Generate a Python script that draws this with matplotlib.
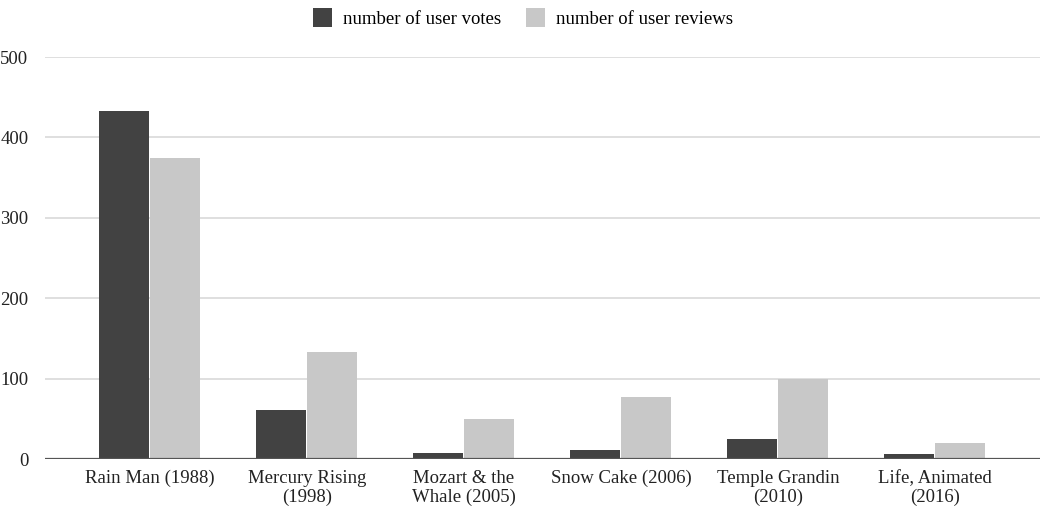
import matplotlib
matplotlib.use("Agg")
import matplotlib.pyplot as plt
import numpy as np

categories = ["Rain Man (1988)", "Mercury Rising\n(1998)", "Mozart & the\nWhale (2005)",
              "Snow Cake (2006)", "Temple Grandin\n(2010)", "Life, Animated\n(2016)"]
votes = [433, 61, 7, 11, 25, 6]
reviews = [374, 133, 50, 77, 100, 20]
yticks = [0, 100, 200, 300, 400, 500]

plt.rcParams['font.family'] = ['Liberation Serif', 'DejaVu Serif']

fig = plt.figure(figsize=(10.46, 5.08), dpi=100)
ax = fig.add_axes([45/1046, (508-459)/508, (1040-45)/1046, (459-57)/508])

x = np.arange(len(categories))
w = 0.318
ax.bar(x - 0.166, votes, w, color="#424242", label="number of user votes", zorder=3)
ax.bar(x + 0.162, reviews, w, color="#c8c8c8", label="number of user reviews", zorder=3)

ax.set_xlim(-0.669, 5.669)
ax.set_ylim(0, 500)
ax.set_yticks(yticks)
ax.set_yticklabels([str(t) for t in yticks], fontsize=13.5, color="#222222")
ax.set_xticks(x)
ax.set_xticklabels(categories, fontsize=13.5, color="#222222", linespacing=1.12)
ax.tick_params(axis='both', length=0)
ax.tick_params(axis='y', pad=12)
ax.tick_params(axis='x', pad=8)
ax.yaxis.grid(True, color="#d9d9d9", linewidth=1.2, zorder=0)
ax.axhline(0, color="#555555", linewidth=1.6, zorder=4)
for s in ax.spines.values():
    s.set_visible(False)

fig.legend(loc='upper center', bbox_to_anchor=(0.5, 1.018), ncol=2, frameon=False,
           fontsize=13.5, handlelength=1.0, handleheight=1.2, columnspacing=1.3,
           handletextpad=0.6)

fig.savefig("out.png", dpi=100)
